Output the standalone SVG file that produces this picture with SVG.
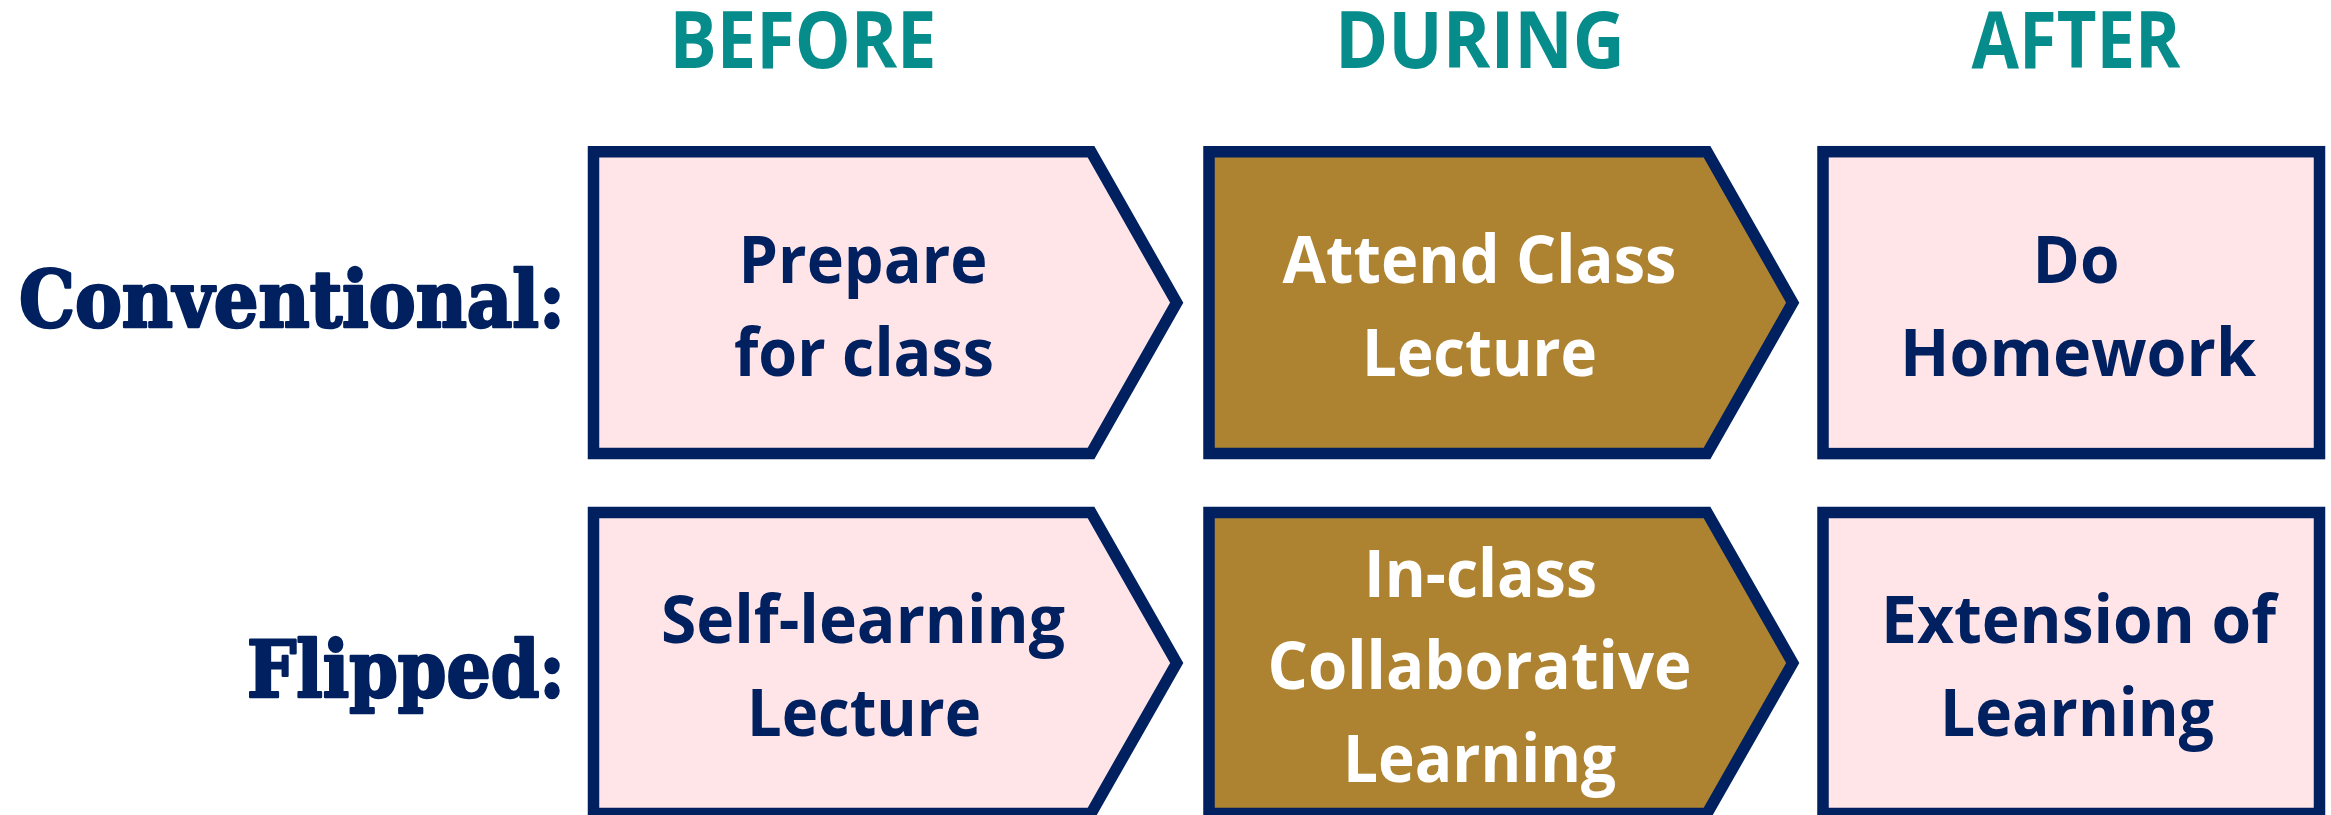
<svg xmlns="http://www.w3.org/2000/svg" width="2331" height="815" viewBox="0 0 2331 815">
<style>
.hdr{font-family:"Open Sans","Liberation Sans",sans-serif;font-weight:700;font-size:79px;fill:#078C8C;text-anchor:middle}
.row{font-family:"DejaVu Serif Condensed","DejaVu Serif",serif;font-weight:700;font-size:78px;fill:#002060;stroke:#002060;stroke-width:2.5;stroke-linejoin:round;text-anchor:end}
.t{font-family:"Open Sans","Liberation Sans",sans-serif;font-weight:700;font-size:67px;text-anchor:middle}
.dk{fill:#002060}
.wt{fill:#FFFFFF}
.pink{fill:#FFE5E8;stroke:#002060;stroke-width:11.5;stroke-linejoin:miter}
.gold{fill:#AD8331;stroke:#002060;stroke-width:11.5;stroke-linejoin:miter}
</style>
<rect width="2331" height="815" fill="#FFFFFF"/>
<g id="headers">
<text class="hdr" x="803" y="68" textLength="267" lengthAdjust="spacingAndGlyphs">BEFORE</text>
<text class="hdr" x="1480" y="68" textLength="290" lengthAdjust="spacingAndGlyphs">DURING</text>
<text class="hdr" x="2076" y="68" textLength="209" lengthAdjust="spacingAndGlyphs">AFTER</text>
</g>
<g id="row-labels">
<text class="row" x="565" y="327" textLength="546" lengthAdjust="spacingAndGlyphs">Conventional:</text>
<text class="row" x="565" y="697" textLength="318" lengthAdjust="spacingAndGlyphs">Flipped:</text>
</g>
<g id="conv-before">
<path class="pink" d="M593.5,151.7 H1091 L1176.7,302.7 L1091,453.6 H593.5 Z"/>
<text class="t dk" x="863" y="283" textLength="249" lengthAdjust="spacingAndGlyphs">Prepare</text>
<text class="t dk" x="864" y="376" textLength="260" lengthAdjust="spacingAndGlyphs">for class</text>
</g>
<g id="conv-during">
<path class="gold" d="M1209,151.7 H1707 L1792.7,302.7 L1707,453.6 H1209 Z"/>
<text class="t wt" x="1479.5" y="283" textLength="394" lengthAdjust="spacingAndGlyphs">Attend Class</text>
<text class="t wt" x="1479.5" y="376" textLength="235" lengthAdjust="spacingAndGlyphs">Lecture</text>
</g>
<g id="conv-after">
<rect class="pink" x="1823" y="151.7" width="496.5" height="301.9"/>
<text class="t dk" x="2076" y="283" textLength="87" lengthAdjust="spacingAndGlyphs">Do</text>
<text class="t dk" x="2078" y="376" textLength="356" lengthAdjust="spacingAndGlyphs">Homework</text>
</g>
<g id="flip-before">
<path class="pink" d="M593.5,512.5 H1091 L1176.7,663 L1091,813.5 H593.5 Z"/>
<text class="t dk" x="863" y="643" textLength="404" lengthAdjust="spacingAndGlyphs">Self-learning</text>
<text class="t dk" x="864" y="736" textLength="234" lengthAdjust="spacingAndGlyphs">Lecture</text>
</g>
<g id="flip-during">
<path class="gold" d="M1209,512.5 H1707 L1792.7,663 L1707,813.5 H1209 Z"/>
<text class="t wt" x="1480.5" y="597" textLength="233" lengthAdjust="spacingAndGlyphs">In-class</text>
<text class="t wt" x="1479.5" y="689" textLength="424" lengthAdjust="spacingAndGlyphs">Collaborative</text>
<text class="t wt" x="1479.5" y="782" textLength="273" lengthAdjust="spacingAndGlyphs">Learning</text>
</g>
<g id="flip-after">
<rect class="pink" x="1823" y="512.5" width="496.5" height="301"/>
<text class="t dk" x="2078.5" y="643" textLength="395" lengthAdjust="spacingAndGlyphs">Extension of</text>
<text class="t dk" x="2077" y="736" textLength="274" lengthAdjust="spacingAndGlyphs">Learning</text>
</g>
<g id="connectors"></g>
</svg>
